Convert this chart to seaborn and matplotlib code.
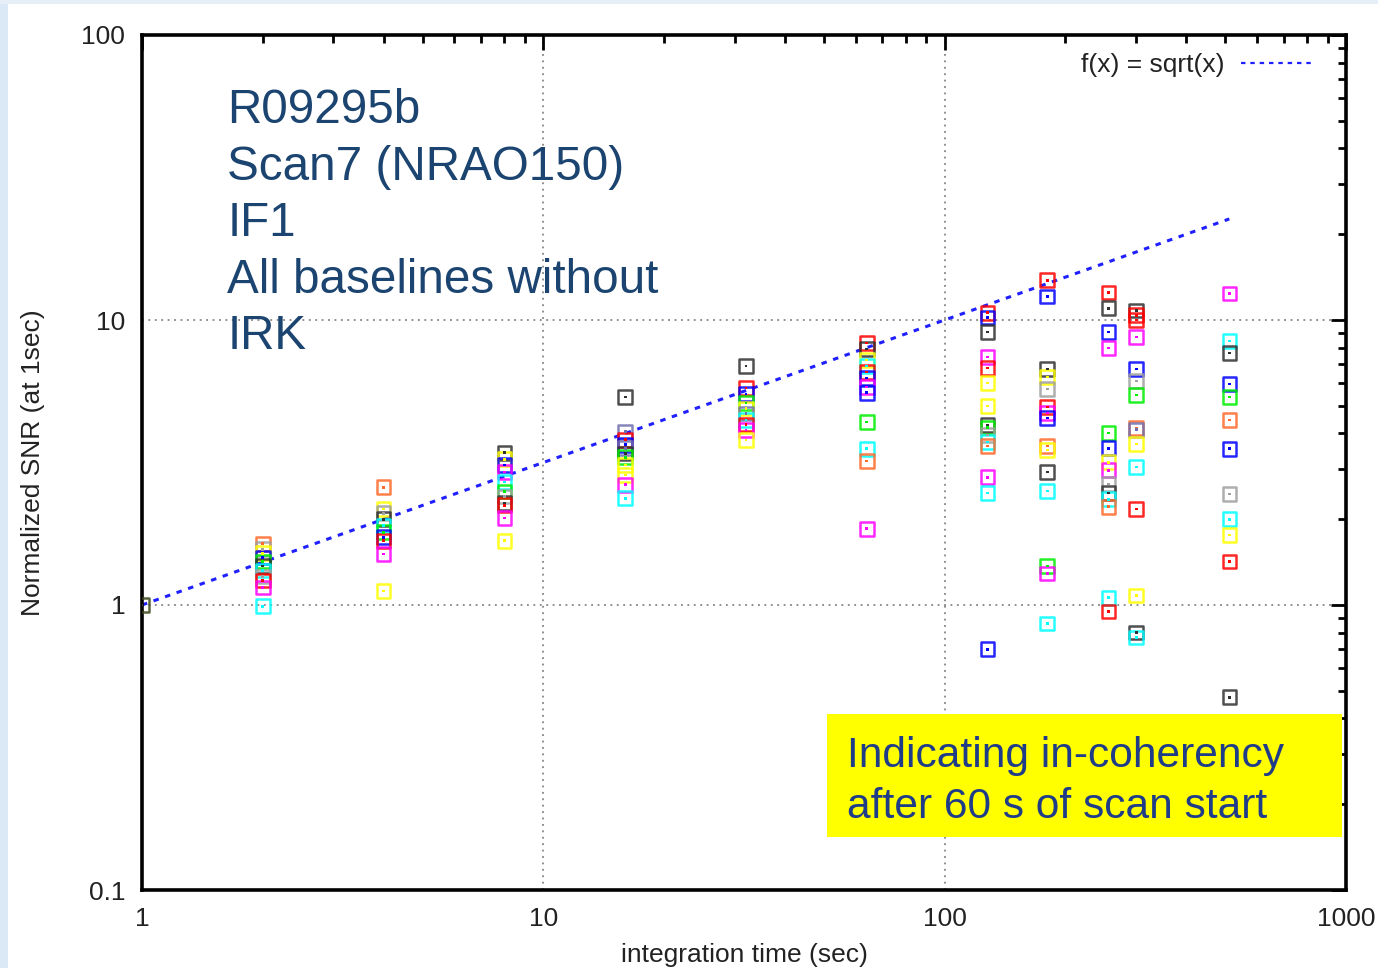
import numpy as np
import pandas as pd
import matplotlib
matplotlib.use("Agg")
import matplotlib.pyplot as plt
from matplotlib.patches import Rectangle
from matplotlib.lines import Line2D
import matplotlib.ticker as mticker
import seaborn as sns

# ---------------- data ----------------
# integration times (sec)
t1 = 1
t_2, t_4, t_8, t_16, t_32, t_64 = 2, 4, 8, 16, 32, 64
t_128, t_180, t_256, t_300, t_512 = 128, 180, 256, 300, 512

snr_1 = [1.0]
bl_1 = ["all"]

snr_2 = [1.64, 1.57, 1.52, 1.47, 1.42, 1.37, 1.32, 1.26, 1.22, 1.15, 0.99]
bl_2 = ["b6", "b9", "b8", "b3", "b2", "b7", "b5", "b9", "b1", "b4", "b5"]

snr_4 = [2.59, 2.17, 2.10, 2.00, 1.90, 1.80, 1.73, 1.68, 1.51, 1.12]
bl_4 = ["b6", "b8", "b9", "b7", "b5", "b2", "b3", "b1", "b4", "b8"]

snr_8 = [3.42, 3.25, 3.10, 2.93, 2.70, 2.50, 2.40, 2.28, 2.24, 2.02, 1.68]
bl_8 = ["b7", "b8", "b3", "b4", "b5", "b2", "b9", "b7", "b1", "b4", "b8"]

snr_16 = [5.37, 4.05, 3.80, 3.65, 3.55, 3.40, 3.30, 3.10, 2.86, 2.64, 2.37]
bl_16 = ["b7", "b10", "b1", "b3", "b10", "b7", "b2", "b8", "b8", "b4", "b5"]

snr_32 = [6.90, 5.77, 5.50, 5.11, 4.90, 4.70, 4.46, 4.30, 4.11, 3.79]
bl_32 = ["b7", "b1", "b3", "b2", "b8", "b10", "b5", "b1", "b4", "b8"]

snr_64 = [8.30, 7.91, 7.24, 6.90, 6.57, 6.26, 5.82, 5.55, 4.39, 3.53, 3.20, 1.85]
bl_64 = ["b1", "b7", "b8", "b5", "b1", "b3", "b4", "b3", "b2", "b5", "b6", "b4"]

snr_128 = [10.6, 10.2, 9.08, 7.42, 6.78, 6.01, 4.99, 4.28, 4.20, 3.95, 3.73, 3.61,
           2.81, 2.47, 0.70]
bl_128 = ["b1", "b3", "b7", "b4", "b1", "b8", "b8", "b7", "b2", "b9", "b5", "b6",
          "b4", "b5", "b3"]

snr_180 = [13.8, 12.1, 6.73, 6.31, 5.73, 4.95, 4.72, 4.53, 3.61, 3.50, 2.93, 2.51,
           1.37, 1.29, 0.86]
bl_180 = ["b1", "b3", "b7", "b8", "b9", "b1", "b4", "b3", "b6", "b8", "b7", "b5",
          "b2", "b4", "b5"]

snr_256 = [12.5, 11.0, 9.08, 7.97, 4.01, 3.55, 3.17, 2.97, 2.66, 2.47, 2.35, 2.21,
           1.06, 0.95]
bl_256 = ["b1", "b7", "b3", "b4", "b2", "b3", "b8", "b4", "b9", "b7", "b5", "b6",
          "b5", "b1"]

snr_300 = [10.8, 10.4, 10.0, 8.71, 6.73, 6.11, 5.46, 4.18, 4.12, 3.67, 3.05, 2.17,
           1.08, 0.80, 0.77]
bl_300 = ["b7", "b1", "b1", "b4", "b3", "b9", "b2", "b6", "b10", "b8", "b5", "b1",
          "b8", "b7", "b5"]

snr_512 = [12.4, 8.44, 7.66, 5.96, 5.37, 4.46, 3.53, 2.45, 2.00, 1.76, 1.42, 0.475]
bl_512 = ["b4", "b5", "b7", "b3", "b2", "b6", "b3", "b9", "b5", "b8", "b1", "b7"]

columns = [
    (t1, snr_1, bl_1), (t_2, snr_2, bl_2), (t_4, snr_4, bl_4), (t_8, snr_8, bl_8),
    (t_16, snr_16, bl_16), (t_32, snr_32, bl_32), (t_64, snr_64, bl_64),
    (t_128, snr_128, bl_128), (t_180, snr_180, bl_180), (t_256, snr_256, bl_256),
    (t_300, snr_300, bl_300), (t_512, snr_512, bl_512),
]

sqrt_x = [1, 2, 4, 8, 16, 32, 64, 128, 256, 512]

# ---------------- styles ----------------
palette = {
    "all": "#3d4a1c",
    "b1": "#ff0000", "b2": "#00ee00", "b3": "#0000ff", "b4": "#ff00ff",
    "b5": "#00ffff", "b6": "#ff6a2a", "b7": "#303030", "b8": "#ffff00",
    "b9": "#a0a0a0", "b10": "#7070b0",
}

rows = []
for t, vals, bls in columns:
    for v, b in zip(vals, bls):
        rows.append({"time": t, "snr": v, "baseline": b})
df = pd.DataFrame(rows)

sns.set_theme(style="white")
plt.rcParams["font.family"] = ["Liberation Sans", "DejaVu Sans"]

fig = plt.figure(figsize=(13.78, 9.68), dpi=100)
fig.patch.set_facecolor("white")
fig.add_artist(Rectangle((0, 0), 8 / 1378, 1, transform=fig.transFigure,
                         facecolor="#dbe8f6", edgecolor="none", zorder=-10))
fig.add_artist(Rectangle((0, 1 - 4 / 968), 1, 4 / 968, transform=fig.transFigure,
                         facecolor="#e6eef8", edgecolor="none", zorder=-10))

ax = fig.add_axes([142 / 1378, 1 - 890 / 968, (1346 - 142) / 1378, (890 - 35) / 968])
ax.set_facecolor("white")

ax.set_xscale("log")
ax.set_yscale("log")
ax.set_xlim(1, 1000)
ax.set_ylim(0.1, 100)

# sqrt reference line
sns.lineplot(x=sqrt_x, y=np.sqrt(sqrt_x), ax=ax, color="#2020ff", lw=2.2,
             zorder=2)
ax.lines[-1].set_dashes((1.8, 2.2))

sns.scatterplot(data=df, x="time", y="snr", hue="baseline", palette=palette,
                marker="s", s=95, linewidth=1.8,
                legend=False, ax=ax, zorder=3)
for coll in ax.collections:
    fc = coll.get_facecolors()
    coll.set_edgecolors(fc)
    coll.set_facecolors("none")
    coll.set_alpha(0.85)
sns.scatterplot(data=df, x="time", y="snr", hue="baseline", palette=palette,
                marker="s", s=4, linewidth=0, legend=False, ax=ax, zorder=3)

# grid
ax.grid(True, which="major", color="#707070", linestyle=(0, (1.2, 3)), lw=1.1)
ax.grid(False, which="minor")

for sp in ax.spines.values():
    sp.set_linewidth(2.6)
    sp.set_color("black")

ax.tick_params(which="both", direction="in", top=True, right=True, color="black")
ax.tick_params(which="major", length=11, width=2, labelsize=19, pad=12)
ax.tick_params(which="minor", length=6, width=2)
ax.xaxis.set_major_locator(mticker.FixedLocator([1, 10, 100, 1000]))
ax.yaxis.set_major_locator(mticker.FixedLocator([0.1, 1, 10, 100]))
ax.xaxis.set_major_formatter(mticker.FixedFormatter(["1", "10", "100", "1000"]))
ax.yaxis.set_major_formatter(mticker.FixedFormatter(["0.1", "1", "10", "100"]))
ax.xaxis.set_minor_locator(mticker.LogLocator(base=10, subs=np.arange(2, 10)))
ax.yaxis.set_minor_locator(mticker.LogLocator(base=10, subs=np.arange(2, 10)))
ax.yaxis.set_minor_formatter(mticker.NullFormatter())
ax.xaxis.set_minor_formatter(mticker.NullFormatter())
for lab in ax.get_xticklabels() + ax.get_yticklabels():
    lab.set_color("#222222")

ax.set_xlabel("integration time (sec)", fontsize=19, color="#222222", labelpad=9)
ax.set_ylabel("Normalized SNR (at 1sec)", fontsize=19, color="#222222", labelpad=26)

# legend
handle = Line2D([0], [0], color="#2020ff", lw=1.6, dashes=(2.0, 2.2))
leg = ax.legend([handle], ["f(x) = sqrt(x)"], loc="upper right", frameon=False,
                markerfirst=False, fontsize=19, handlelength=2.7, handletextpad=0.65,
                bbox_to_anchor=(0.9875, 1.0), borderaxespad=0.3)
for txt in leg.get_texts():
    txt.set_color("#222222")

# annotation text
ax.text(0.071, 0.938, "R09295b\nScan7 (NRAO150)\nIF1\nAll baselines without\nIRK",
        transform=ax.transAxes, ha="left", va="top", fontsize=34.3,
        color="#1b4470", linespacing=1.33, zorder=5)

# yellow box
box_x0 = (827 - 142) / (1346 - 142)
box_y0 = (890 - 837) / (890 - 35)
box_w = (1342 - 827) / (1346 - 142)
box_h = (837 - 714) / (890 - 35)
ax.add_patch(Rectangle((box_x0, box_y0), box_w, box_h, transform=ax.transAxes,
                       facecolor="#ffff00", edgecolor="none", zorder=6,
                       clip_on=False))
ax.text(box_x0 + 0.017, box_y0 + box_h / 2 - 0.007,
        "Indicating in-coherency\nafter 60 s of scan start",
        transform=ax.transAxes, ha="left", va="center", fontsize=30.6,
        color="#1f3c88", linespacing=1.36, zorder=7)

fig.savefig("out.png", dpi=100, facecolor=fig.get_facecolor())
